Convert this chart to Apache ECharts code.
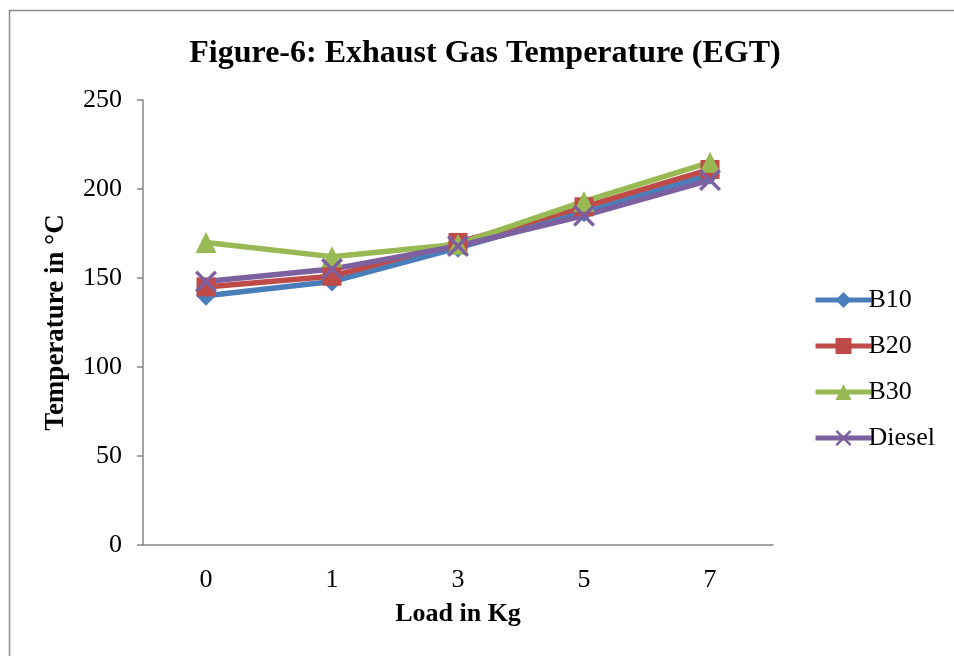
<!DOCTYPE html>
<html><head><meta charset="utf-8">
<script src="https://cdn.jsdelivr.net/npm/echarts@6/dist/echarts.min.js"></script>
<style>html,body{margin:0;padding:0;background:#fff}#c{width:954px;height:656px}</style>
</head><body><div id="c"></div>
<script>
const categories = ['0', '1', '3', '5', '7'];
const b10 = [140, 148, 167, 187, 208];
const b20 = [145, 151, 170, 190, 211];
const b30 = [170, 162, 169, 193, 215];
const diesel = [148, 155, 168, 185, 205];
const seriesNames = ['B10', 'B20', 'B30', 'Diesel'];

const xSym = 'path://M0,1.1 L1.1,0 L5,3.9 L8.9,0 L10,1.1 L6.1,5 L10,8.9 L8.9,10 L5,6.1 L1.1,10 L0,8.9 L3.9,5 Z';
const font = 'Liberation Serif';
const chart = echarts.init(document.getElementById('c'));
function mk(name, data, color, symbol, size) {
  return {
    name, type: 'line', data, symbol, symbolSize: size,
    lineStyle: { width: 5.5, color }, itemStyle: { color },
    emphasis: { disabled: true }
  };
}
chart.setOption({
  animation: false,
  textStyle: { fontFamily: font },
  graphic: [{ type: 'rect', shape: { x: 9.5, y: 10.5, width: 960, height: 660 }, style: { fill: 'none', stroke: '#8c8c8c', lineWidth: 1.5 } }],
  title: { text: 'Figure-6: Exhaust Gas Temperature (EGT)', left: 480, top: 33, textAlign: 'center',
    textStyle: { fontFamily: font, fontSize: 32, fontWeight: 'bold', color: '#000' } },
  grid: { left: 143, right: 181, top: 100, bottom: 111, containLabel: false },
  legend: {
    orient: 'vertical', left: 808, top: 282, itemGap: 20, itemWidth: 56, itemHeight: 20,
    textStyle: { fontFamily: font, fontSize: 26, color: '#000', padding: [0, 0, 0, -8] },
    lineStyle: { width: 5 },
    data: seriesNames
  },
  xAxis: {
    type: 'category', data: categories, boundaryGap: true,
    name: 'Load in Kg', nameLocation: 'middle', nameGap: 56,
    nameTextStyle: { fontFamily: font, fontSize: 26, fontWeight: 'bold', color: '#000' },
    axisLine: { lineStyle: { color: '#868686', width: 1.5 } },
    axisTick: { show: false },
    axisLabel: { fontFamily: font, fontSize: 26, color: '#000', margin: 22 }
  },
  yAxis: {
    type: 'value', min: 0, max: 250, interval: 50,
    name: 'Temperature in \u00B0C', nameLocation: 'middle', nameGap: 73, nameRotate: 90,
    nameTextStyle: { fontFamily: font, fontSize: 27, fontWeight: 'bold', color: '#000' },
    axisLine: { show: true, lineStyle: { color: '#868686', width: 1.5 } },
    axisTick: { show: true, inside: false, length: 6, lineStyle: { color: '#868686', width: 1.5 } },
    splitLine: { show: false },
    axisLabel: { fontFamily: font, fontSize: 26, color: '#000', margin: 21 }
  },
  series: [
    mk('B10', b10, '#4a7ebb', 'diamond', 20),
    mk('B20', b20, '#be4b48', 'rect', 19),
    mk('B30', b30, '#98b954', 'triangle', 21),
    mk('Diesel', diesel, '#7d60a0', xSym, 22)
  ]
});
</script></body></html>
